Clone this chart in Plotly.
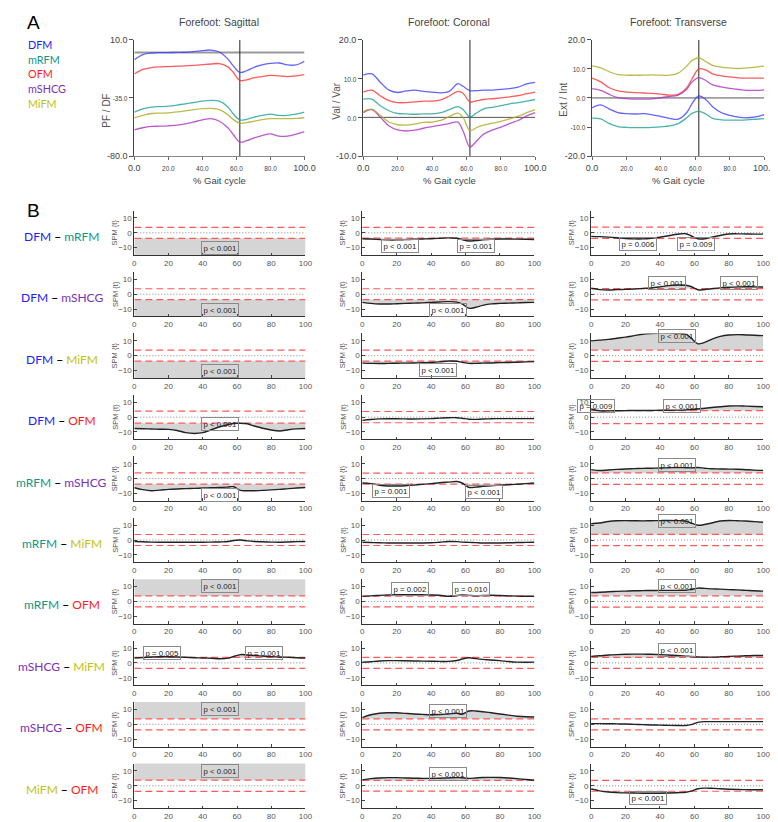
import plotly.graph_objects as go

# ---------------- DATA ----------------
X_PCT = [0, 5, 10, 15, 20, 25, 30, 35, 40, 45, 50, 55, 58, 62, 66, 70, 75, 80, 85, 90, 95, 100]

SEGMENTS = ["DFM", "mRFM", "OFM", "mSHCG", "MiFM"]

# Panel A: mean forefoot angles (deg)
SAG_DFM = [-5.5, -1.5, -0.3, 0.0, 0.0, 0.2, 0.3, 0.8, 1.5, 2.0, 0.5, -5.0, -10.0, -15.3, -14.0, -11.5, -9.5, -8.3, -8.0, -9.5, -9.5, -6.7]
SAG_OFM = [-16.5, -13.0, -11.5, -11.0, -10.8, -10.5, -10.2, -9.8, -9.3, -8.8, -8.5, -11.0, -15.0, -21.5, -21.0, -19.5, -18.5, -17.5, -18.0, -18.5, -18.0, -17.0]
SAG_mRFM = [-46.0, -43.5, -42.0, -41.7, -41.3, -40.5, -39.5, -38.5, -37.5, -36.8, -37.5, -42.0, -47.0, -52.0, -51.5, -50.0, -48.5, -47.5, -48.5, -48.5, -47.5, -46.0]
SAG_MiFM = [-50.3, -48.5, -47.0, -46.7, -46.5, -45.8, -45.0, -44.0, -43.3, -43.0, -44.0, -48.0, -51.5, -54.5, -54.0, -53.0, -51.8, -51.0, -51.0, -51.0, -50.8, -50.3]
SAG_mSHCG = [-59.7, -58.0, -57.0, -56.8, -56.5, -56.0, -55.0, -53.5, -52.0, -51.0, -53.0, -58.0, -63.0, -69.0, -68.0, -66.0, -64.0, -62.8, -64.5, -64.5, -63.0, -61.0]

COR_DFM = [10.9, 11.2, 9.0, 7.0, 6.4, 6.8, 7.0, 6.7, 6.5, 6.3, 6.7, 8.7, 8.0, 6.9, 6.9, 7.0, 7.0, 7.2, 7.4, 7.8, 8.6, 9.0]
COR_OFM = [6.5, 7.0, 5.5, 4.3, 3.8, 3.8, 4.0, 4.2, 4.2, 4.5, 5.5, 6.7, 6.2, 4.0, 4.3, 4.6, 4.8, 5.0, 5.3, 5.6, 6.1, 6.5]
COR_mRFM = [4.7, 4.7, 3.0, 1.7, 1.0, 0.9, 0.8, 0.9, 0.9, 1.2, 2.0, 2.75, 2.0, 0.1, 1.2, 2.2, 2.6, 3.0, 3.5, 3.8, 4.2, 4.6]
COR_MiFM = [1.5, 2.1, 0.5, -1.2, -1.9, -2.0, -1.7, -1.3, -1.2, -0.8, 0.2, 1.1, 0.0, -3.4, -2.6, -2.0, -1.5, -1.0, -0.4, 0.3, 1.2, 2.0]
COR_mSHCG = [1.2, 2.0, 0.0, -2.2, -3.2, -3.5, -3.3, -2.8, -2.4, -2.0, -1.6, -1.2, -3.5, -7.6, -6.0, -4.3, -3.3, -2.5, -1.6, -0.8, 0.4, 1.2]

TRA_MiFM = [11.0, 10.3, 9.0, 8.0, 7.8, 7.8, 7.8, 7.9, 7.8, 7.8, 8.5, 11.0, 12.8, 13.8, 12.5, 11.2, 10.6, 10.3, 10.1, 10.3, 10.6, 11.0]
TRA_OFM = [6.8, 5.5, 3.5, 2.4, 2.0, 1.8, 1.7, 1.6, 1.3, 1.0, 1.2, 3.5, 6.5, 10.0, 9.6, 8.3, 7.6, 7.2, 6.9, 6.8, 6.8, 6.8]
TRA_mSHCG = [3.2, 2.6, 1.2, 0.1, -0.2, -0.4, -0.4, -0.3, 0.1, 0.5, 1.0, 3.0, 5.5, 7.0, 6.0, 4.5, 3.8, 3.3, 2.9, 2.6, 2.6, 2.8]
TRA_DFM = [-3.4, -2.4, -3.8, -5.0, -5.4, -5.5, -5.4, -5.8, -6.4, -7.0, -7.3, -5.0, -2.0, 0.7, -0.5, -3.0, -5.0, -6.0, -6.6, -6.8, -6.5, -5.7]
TRA_mRFM = [-6.9, -7.2, -8.8, -9.8, -10.1, -10.2, -10.2, -10.1, -9.9, -9.6, -8.8, -6.8, -5.3, -4.6, -5.5, -7.0, -7.5, -7.6, -7.6, -7.5, -7.3, -7.1]

PLANE_TITLES = ["Forefoot: Sagittal", "Forefoot: Coronal", "Forefoot: Transverse"]
PLANE_YLABELS = ["PF / DF", "Val / Var", "Ext / Int"]
PLANE_RANGES = [[-80, 10], [-10, 20], [-20, 20]]
PLANE_YTICKS = [[10, -35, -80], [20, 10, 0, -10], [20, 10, 0, -10, -20]]
PLANE_YTICKS_BIG = [[10, -80], [20, -10], [20, -20]]
GAIT_TICKS = [0, 20, 40, 60, 80, 100]
TOE_OFF = 62

# Panel B: SPM{t} trajectories for each pair (sagittal, coronal, transverse)
PAIRS = [("DFM", "mRFM"), ("DFM", "mSHCG"), ("DFM", "MiFM"), ("DFM", "OFM"),
         ("mRFM", "mSHCG"), ("mRFM", "MiFM"), ("mRFM", "OFM"),
         ("mSHCG", "MiFM"), ("mSHCG", "OFM"), ("MiFM", "OFM")]

T_DFM_mRFM_SAG = [-24, -25, -26, -26, -26, -25, -25, -24, -24, -23, -24, -27, -29, -31, -30, -29, -28, -27, -27, -27, -26, -25]
T_DFM_mRFM_COR = [-4.0, -4.2, -4.5, -4.8, -4.8, -4.6, -4.4, -4.2, -4.0, -3.7, -3.4, -3.7, -4.6, -5.5, -5.2, -4.8, -4.4, -4.2, -4.2, -4.3, -4.4, -4.5]
T_DFM_mRFM_TRA = [-2.4, -2.6, -2.9, -3.3, -3.8, -4.1, -4.1, -3.7, -3.0, -2.0, -1.0, -0.6, -2.0, -4.0, -4.1, -3.0, -1.8, -0.8, -0.7, -0.8, -0.9, -0.9]

T_DFM_mSHCG_SAG = [-27, -28, -29, -29, -28, -28, -27, -27, -26, -26, -27, -30, -33, -35, -34, -32, -31, -30, -30, -30, -29, -28]
T_DFM_mSHCG_COR = [-5.5, -6.2, -6.6, -6.6, -6.4, -6.2, -6.0, -5.8, -5.5, -5.2, -5.0, -5.3, -6.5, -9.5, -8.8, -7.5, -6.5, -6.2, -6.0, -5.8, -5.6, -5.5]
T_DFM_mSHCG_TRA = [4.0, 3.1, 2.9, 3.1, 3.3, 3.5, 3.9, 4.3, 5.0, 5.8, 6.2, 6.1, 5.2, 3.0, 3.2, 3.7, 4.3, 4.7, 5.0, 5.1, 5.0, 4.9]

T_DFM_MiFM_SAG = [-22, -23, -24, -24, -24, -23, -23, -22, -22, -21, -22, -25, -27, -29, -28, -27, -26, -25, -25, -25, -24, -23]
T_DFM_MiFM_COR = [-5.0, -5.2, -5.3, -5.2, -5.1, -5.0, -4.9, -4.8, -4.6, -4.2, -3.6, -3.8, -4.4, -5.2, -5.2, -5.0, -4.9, -4.7, -4.6, -4.4, -4.2, -4.0]
T_DFM_MiFM_TRA = [10.0, 10.5, 11.0, 11.8, 12.5, 13.5, 14.5, 15.0, 15.3, 15.3, 15.0, 14.5, 12.0, 8.0, 9.0, 11.0, 13.0, 14.0, 14.2, 14.0, 13.8, 13.5]

T_DFM_OFM_SAG = [-7.7, -7.8, -8.0, -8.2, -8.3, -9.0, -10.5, -11.0, -10.5, -8.5, -6.5, -5.0, -4.3, -4.1, -4.5, -6.0, -7.5, -8.7, -9.4, -8.5, -7.9, -7.7]
T_DFM_OFM_COR = [-2.2, -1.6, -1.2, -1.1, -1.1, -1.2, -1.3, -1.2, -1.0, -0.7, -0.4, -0.4, -0.8, -1.4, -1.5, -1.3, -1.1, -1.0, -1.0, -1.0, -1.0, -1.0]
T_DFM_OFM_TRA = [5.5, 4.3, 4.2, 4.3, 4.4, 4.5, 4.5, 4.5, 4.6, 4.6, 4.7, 4.9, 5.1, 5.5, 6.0, 6.5, 7.0, 7.5, 7.6, 7.4, 7.2, 7.0]

T_mRFM_mSHCG_SAG = [-6.2, -7.5, -8.2, -7.8, -7.3, -7.0, -6.8, -6.6, -6.4, -6.2, -6.0, -5.7, -5.5, -8.0, -8.2, -8.2, -8.0, -7.6, -7.3, -6.8, -6.4, -6.0]
T_mRFM_mSHCG_COR = [-3.0, -3.4, -4.5, -5.0, -5.0, -4.8, -4.4, -3.9, -3.4, -2.8, -2.4, -2.0, -3.0, -6.0, -5.8, -5.3, -4.8, -4.5, -4.2, -3.8, -3.4, -3.0]
T_mRFM_mSHCG_TRA = [6.0, 5.4, 5.8, 6.2, 6.5, 6.7, 6.9, 7.0, 7.1, 7.3, 7.5, 7.3, 7.2, 7.5, 7.0, 6.6, 6.5, 6.4, 6.3, 6.0, 5.7, 5.5]

T_mRFM_MiFM_SAG = [-1.0, -1.2, -1.4, -1.5, -1.5, -1.5, -1.5, -1.5, -1.5, -1.4, -1.3, -1.0, -0.3, 0.0, -0.6, -1.0, -1.2, -1.4, -1.5, -1.3, -1.1, -1.0]
T_mRFM_MiFM_COR = [-1.5, -1.7, -1.9, -2.0, -2.0, -2.0, -2.0, -2.0, -1.9, -1.5, -1.0, -1.1, -1.4, -1.6, -1.8, -2.0, -2.0, -2.0, -1.9, -1.7, -1.6, -1.5]
T_mRFM_MiFM_TRA = [11.0, 11.5, 12.5, 13.0, 13.1, 13.0, 12.9, 13.0, 13.1, 13.2, 13.1, 12.8, 11.5, 10.0, 10.5, 11.5, 12.8, 13.2, 13.0, 12.8, 12.4, 12.0]

T_mRFM_OFM_SAG = [24, 25, 26, 26, 26, 25, 25, 24, 24, 23, 24, 27, 29, 31, 30, 29, 28, 27, 27, 27, 26, 25]
T_mRFM_OFM_COR = [3.4, 3.8, 4.1, 4.4, 4.6, 4.6, 4.6, 4.5, 4.4, 4.2, 3.5, 4.0, 4.4, 4.1, 3.8, 4.0, 4.2, 4.0, 3.8, 3.6, 3.5, 3.4]
T_mRFM_OFM_TRA = [6.0, 6.2, 6.5, 6.8, 7.0, 7.2, 7.3, 7.4, 7.5, 7.5, 7.5, 7.6, 8.0, 9.0, 8.8, 8.5, 8.3, 8.0, 7.8, 7.5, 7.2, 7.0]

T_mSHCG_MiFM_SAG = [3.3, 3.6, 4.0, 4.1, 4.1, 4.0, 3.8, 3.5, 3.3, 3.1, 2.8, 3.2, 4.3, 5.6, 5.3, 5.0, 4.6, 4.2, 4.0, 3.8, 3.5, 3.3]
T_mSHCG_MiFM_COR = [0.4, 0.8, 1.3, 1.5, 1.5, 1.4, 1.3, 1.2, 1.1, 1.0, 1.0, 1.6, 2.6, 3.5, 2.9, 2.4, 2.0, 1.5, 0.9, 0.5, 0.4, 0.5]
T_mSHCG_MiFM_TRA = [4.4, 4.8, 5.3, 5.6, 5.8, 5.9, 5.9, 5.8, 5.6, 5.3, 5.0, 4.6, 4.3, 4.0, 3.9, 3.9, 4.1, 4.4, 4.6, 4.8, 5.0, 5.0]

T_mSHCG_OFM_SAG = [27, 28, 29, 29, 28, 28, 27, 27, 26, 26, 27, 30, 33, 35, 34, 32, 31, 30, 30, 30, 29, 28]
T_mSHCG_OFM_COR = [4.5, 6.5, 7.5, 7.8, 7.8, 7.4, 7.0, 6.7, 6.5, 6.6, 7.0, 7.5, 6.8, 9.0, 9.0, 8.5, 7.8, 7.0, 6.2, 5.5, 5.1, 5.0]
T_mSHCG_OFM_TRA = [0.5, 0.5, 0.4, 0.3, 0.2, 0.0, -0.2, -0.4, -0.5, -0.7, -0.8, -0.8, -0.2, 1.3, 1.8, 1.8, 1.8, 1.8, 1.8, 1.8, 1.8, 1.8]

T_MiFM_OFM_SAG = [22, 23, 24, 24, 24, 23, 23, 22, 22, 21, 22, 25, 27, 29, 28, 27, 26, 25, 25, 25, 24, 23]
T_MiFM_OFM_COR = [4.0, 4.8, 5.3, 5.5, 5.5, 5.3, 5.1, 5.0, 5.0, 5.1, 5.3, 5.5, 5.4, 5.0, 5.3, 5.6, 5.7, 5.6, 5.3, 4.8, 4.2, 3.7]
T_MiFM_OFM_TRA = [-2.2, -3.4, -4.2, -4.6, -4.8, -4.9, -5.0, -5.0, -5.0, -4.9, -4.7, -4.4, -3.6, -2.0, -1.6, -1.7, -2.0, -2.3, -2.5, -2.6, -2.7, -2.7]

# critical thresholds t* per pair (rows) and plane
THR_SAG = [3.7, 3.7, 3.7, 4.1, 3.8, 3.7, 3.7, 3.7, 3.7, 3.8]
THR_COR = [3.6, 3.7, 3.7, 3.8, 3.7, 3.7, 3.6, 3.7, 3.7, 3.6]
THR_TRA = [3.8, 3.8, 3.8, 4.4, 3.9, 3.8, 3.8, 3.7, 3.7, 3.7]

# side of the supra-threshold clusters
FILL_SAG = ["lo", "lo", "lo", "lo", "lo", None, "hi", "hi", "hi", "hi"]
FILL_COR = ["lo", "lo", "lo", None, "lo", None, "hi", None, "hi", "hi"]
FILL_TRA = ["lo", "hi", "hi", "hi", "hi", "hi", "hi", "hi", None, "lo"]

# cluster p-values: (pair row, plane col, x, t, text)
P_LABELS = [
    (0, 0, 50, -10.3, "p < 0.001"), (0, 1, 22, -9.0, "p < 0.001"), (0, 1, 66, -9.0, "p = 0.001"),
    (0, 2, 27, -7.6, "p = 0.006"), (0, 2, 61, -7.6, "p = 0.009"),
    (1, 0, 50, -10.3, "p < 0.001"), (1, 1, 50, -10.5, "p < 0.001"),
    (1, 2, 44, 7.9, "p < 0.001"), (1, 2, 86, 7.9, "p < 0.001"),
    (2, 0, 50, -10.3, "p < 0.001"), (2, 1, 44, -9.5, "p < 0.001"), (2, 2, 50, 13.0, "p < 0.001"),
    (3, 0, 50, -4.5, "p < 0.001"), (3, 2, 3, 7.3, "p = 0.009"), (3, 2, 53, 7.5, "p < 0.001"),
    (4, 0, 50, -11.0, "p < 0.001"), (4, 1, 17, -8.7, "p = 0.001"), (4, 1, 71, -9.3, "p < 0.001"),
    (4, 2, 50, 9.3, "p < 0.001"),
    (5, 2, 50, 12.5, "p < 0.001"),
    (6, 0, 50, 10.3, "p < 0.001"), (6, 1, 28, 8.3, "p = 0.002"), (6, 1, 63, 8.3, "p = 0.010"),
    (6, 2, 50, 10.5, "p < 0.001"),
    (7, 0, 16, 7.0, "p = 0.005"), (7, 0, 76, 7.0, "p = 0.001"), (7, 2, 50, 8.5, "p < 0.001"),
    (8, 0, 50, 10.3, "p < 0.001"), (8, 1, 50, 9.0, "p < 0.001"),
    (9, 0, 50, 10.3, "p < 0.001"), (9, 1, 50, 8.0, "p < 0.001"), (9, 2, 33, -8.2, "p < 0.001"),
]

# ---------------- STYLE / LAYOUT ----------------
W, H = 778, 822
FONT = "Liberation Sans, Arial, sans-serif"
LFONT = "Lato, Open Sans, sans-serif"
LINE_COL = {"DFM": "rgba(60,60,255,0.8)", "mRFM": "rgba(30,160,150,0.8)", "OFM": "rgba(255,50,50,0.8)",
            "mSHCG": "rgba(170,50,190,0.8)", "MiFM": "rgba(170,170,30,0.8)"}
TEXT_COL = {"DFM": "#2020ff", "mRFM": "#129488", "OFM": "#ff1a1a", "mSHCG": "#7a30b8", "MiFM": "#c2c214"}

TOP_COLS = [(123, 297), (357, 533), (591, 767)]
TOP_Y = (27, 145)
SPM_COLS = [(123, 298), (356, 532), (590, 766)]
SPM_TOP0, SPM_STEP, SPM_H = 200, 62.2, 45

plane_data = [
    {"DFM": SAG_DFM, "mRFM": SAG_mRFM, "OFM": SAG_OFM, "mSHCG": SAG_mSHCG, "MiFM": SAG_MiFM},
    {"DFM": COR_DFM, "mRFM": COR_mRFM, "OFM": COR_OFM, "mSHCG": COR_mSHCG, "MiFM": COR_MiFM},
    {"DFM": TRA_DFM, "mRFM": TRA_mRFM, "OFM": TRA_OFM, "mSHCG": TRA_mSHCG, "MiFM": TRA_MiFM},
]
g = globals()
spm_data = [[g[f"T_{a}_{b}_{p}"] for p in ("SAG", "COR", "TRA")] for a, b in PAIRS]
THRS = [THR_SAG, THR_COR, THR_TRA]
FILLS = [FILL_SAG, FILL_COR, FILL_TRA]


def xr(n): return "x" if n == 1 else f"x{n}"
def yr(n): return "y" if n == 1 else f"y{n}"
def xk(n): return "xaxis" if n == 1 else f"xaxis{n}"
def yk(n): return "yaxis" if n == 1 else f"yaxis{n}"
def fx(px): return px / W
def fy(py): return 1 - py / H


def small(t, s=6.5):
    return f'<span style="font-size:{s}px">{t}</span>'


def text_ann(text, x, y, size, color="#333", family=FONT, xanchor="center", angle=0):
    return dict(text=text, x=fx(x), y=fy(y), xref="paper", yref="paper", showarrow=False,
                xanchor=xanchor, yanchor="middle", textangle=angle,
                font=dict(size=size, color=color, family=family))


fill_panels = [(r, c) for r in range(10) for c in range(3) if FILLS[c][r]]
fill_id = {rc: i + 1 for i, rc in enumerate(fill_panels)}
NF = len(fill_panels)

layout = dict(width=W, height=H, margin=dict(l=0, r=0, t=0, b=0), paper_bgcolor="white",
              plot_bgcolor="rgba(0,0,0,0)", showlegend=False, font=dict(family=FONT, size=9, color="#333"))
fill_traces, main_traces, ann = [], [], []

# ---------- Panel A ----------
for c in range(3):
    xn, yn = c + 1, NF + c + 1
    x0, x1 = TOP_COLS[c]
    layout[xk(xn)] = dict(domain=[fx(x0), fx(x1)], range=[0, 100], anchor=yr(yn), tickmode="array",
                          tickvals=GAIT_TICKS,
                          ticktext=[f"{v:.1f}" if v in (0, 100) else small(f"{v:.1f}") for v in GAIT_TICKS],
                          ticks="outside", ticklen=3, tickcolor="#666", showline=True, linecolor="#888",
                          showgrid=False, zeroline=False, tickfont=dict(size=9, color="#444"), fixedrange=True)
    big = PLANE_YTICKS_BIG[c]
    layout[yk(yn)] = dict(domain=[fy(TOP_Y[1]), fy(TOP_Y[0])], range=PLANE_RANGES[c], anchor=xr(xn),
                          tickmode="array", tickvals=PLANE_YTICKS[c],
                          ticktext=[f"{v:.1f}" if v in big else small(f"{v:.1f}") for v in PLANE_YTICKS[c]],
                          ticks="outside", ticklen=4, tickcolor="#555", showline=True, linecolor="#444",
                          showgrid=False, zeroline=False, tickfont=dict(size=9, color="#444"), fixedrange=True)
    main_traces.append(go.Scatter(x=[0, 100], y=[0, 0], mode="lines", xaxis=xr(xn), yaxis=yr(yn),
                                  line=dict(color="#999" if c == 0 else "#555", width=2 if c == 0 else 1),
                                  hoverinfo="skip"))
    main_traces.append(go.Scatter(x=[TOE_OFF, TOE_OFF], y=PLANE_RANGES[c], mode="lines", xaxis=xr(xn),
                                  yaxis=yr(yn), line=dict(color="#222", width=1), hoverinfo="skip"))
    for seg in SEGMENTS:
        main_traces.append(go.Scatter(x=X_PCT, y=plane_data[c][seg], mode="lines", xaxis=xr(xn), yaxis=yr(yn),
                                      line=dict(color=LINE_COL[seg], width=1.3, shape="spline"), name=seg))
    xc = (x0 + x1) / 2
    ann.append(text_ann(PLANE_TITLES[c], xc, 9, 10.5, "#444"))
    ann.append(text_ann("% Gait cycle", xc, 170, 9.5, "#444"))
    lx, ly = [(95, 99), (330, 89), (562, 88)][c]
    ann.append(text_ann(PLANE_YLABELS[c], lx, ly, 10, "#555", angle=-90))

for i, seg in enumerate(SEGMENTS):
    ann.append(text_ann(seg, 12, 32 + 14.8 * i, 10.8, TEXT_COL[seg], LFONT, xanchor="left"))
ann.append(text_ann("A", 20, 10, 19, "black"))
ann.append(text_ann("B", 20, 200, 19, "black"))

# ---------- Panel B ----------
for r in range(10):
    top = SPM_TOP0 + r * SPM_STEP
    bot = top + SPM_H
    a, b = PAIRS[r]
    ann.append(text_ann(f'<span style="color:{TEXT_COL[a]}">{a}</span> <b>–</b> '
                        f'<span style="color:{TEXT_COL[b]}">{b}</span>', 49, top + 26, 12, "black", LFONT))
    for c in range(3):
        p = 3 + r * 3 + c
        xn, yn = p + 1, NF + p + 1
        x0, x1 = SPM_COLS[c]
        thr = THRS[c][r]
        curve = spm_data[r][c]
        ydom = [fy(bot), fy(top)]
        layout[xk(xn)] = dict(domain=[fx(x0), fx(x1)], range=[0, 100], anchor=yr(yn), tickmode="array",
                              tickvals=GAIT_TICKS, ticks="inside", ticklen=2.5, tickcolor="#444",
                              showline=True, linecolor="#333", linewidth=1, showgrid=False, zeroline=False,
                              tickfont=dict(size=8, color="#555"), fixedrange=True)
        layout[yk(yn)] = dict(domain=ydom, range=[-15, 15], anchor=xr(xn), tickmode="array",
                              tickvals=[-10, 0, 10], ticks="inside", ticklen=2.5, tickcolor="#444",
                              showline=True, linecolor="#333", linewidth=1, showgrid=False, zeroline=False,
                              tickfont=dict(size=8, color="#555"), fixedrange=True)
        side = FILLS[c][r]
        if side:
            fid = fill_id[(r, c)]

            def ymap(v):
                return ydom[0] + (v + 15) / 30 * (ydom[1] - ydom[0])
            if side == "hi":
                dom, rng = [ymap(thr), ydom[1]], [thr, 15]
            else:
                dom, rng = [ydom[0], ymap(-thr)], [-15, -thr]
            layout[yk(fid)] = dict(domain=dom, range=rng, anchor=xr(xn), visible=False, fixedrange=True)
            fill_traces.append(go.Scatter(x=X_PCT, y=curve, mode="lines", fill="tozeroy",
                                          fillcolor="#d5d5d5", line=dict(width=0, shape="spline"),
                                          xaxis=xr(xn), yaxis=yr(fid), hoverinfo="skip"))
        for v in (thr, -thr):
            main_traces.append(go.Scatter(x=[0, 100], y=[v, v], mode="lines", xaxis=xr(xn), yaxis=yr(yn),
                                          line=dict(color="#ff5a5a", width=1.2, dash="7px,4px"),
                                          hoverinfo="skip"))
        main_traces.append(go.Scatter(x=[0, 100], y=[0, 0], mode="lines", xaxis=xr(xn), yaxis=yr(yn),
                                      line=dict(color="#666", width=0.8, dash="1px,2px"), hoverinfo="skip"))
        main_traces.append(go.Scatter(x=X_PCT, y=curve, mode="lines", xaxis=xr(xn), yaxis=yr(yn),
                                      line=dict(color="#222", width=1.4, shape="spline")))
        ann.append(text_ann("SPM {t}", x0 - 20, (top + bot) / 2, 7.5, "#555", angle=-90))

for (r, c, xv, tv, txt) in P_LABELS:
    p = 3 + r * 3 + c
    xn, yn = p + 1, NF + p + 1
    ann.append(dict(text=txt, x=xv, y=tv, xref=xr(xn), yref=yr(yn), showarrow=False,
                    xanchor="center", yanchor="middle",
                    bordercolor="#8a8a8a", borderwidth=1, borderpad=1.5, bgcolor="rgba(0,0,0,0)",
                    font=dict(size=7.8, color="#222", family=FONT)))

layout["annotations"] = ann
fig = go.Figure(data=fill_traces + main_traces, layout=layout)
fig.write_html("out.html")
